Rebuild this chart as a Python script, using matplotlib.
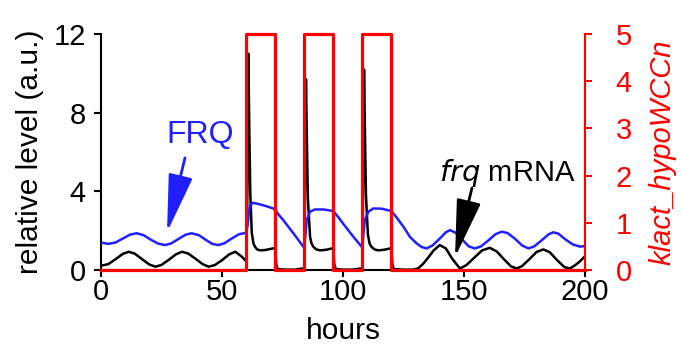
import matplotlib
matplotlib.use("Agg")
import matplotlib.pyplot as plt

plt.rcParams['font.family'] = ['Liberation Sans', 'DejaVu Sans']

# frq mRNA (black)
t_mrna = [0, 3, 6, 9, 11.5, 14, 17, 20, 22.5, 25, 28, 31, 33.5, 36, 39, 42, 44.5, 47, 50, 53,
          55.5, 58, 60,
          60.5, 60.9, 61.3, 61.7, 62.3, 63, 63.6, 64.5, 65.7, 68, 71, 72, 72.4, 73, 76, 80, 83.5, 84,
          84.3, 84.7, 85.1, 85.5, 86.4, 87, 87.7, 89, 90.5, 93, 95.5, 96, 96.4, 97, 100, 104, 107.5, 108,
          108.3, 108.7, 109.1, 109.5, 110.3, 111, 111.7, 113, 114.5, 117, 119.5, 120, 120.4, 121, 125,
          129, 131, 133, 135, 137.5, 140, 142.5, 145, 148.3, 151, 154, 157.5, 160.7, 163.5, 166.5,
          169.5, 171.8, 174, 177, 180, 182.8, 185.5, 188.5, 191.5, 193.8, 196, 198, 200]
mrna = [0.22, 0.3, 0.55, 0.82, 0.93, 0.83, 0.55, 0.28, 0.17, 0.26, 0.52, 0.8, 0.93, 0.84, 0.58, 0.3,
        0.17, 0.25, 0.5, 0.8, 0.93, 0.7, 0.45,
        4.0, 11.0, 7.0, 3.9, 1.9, 1.35, 1.19, 1.05, 1.0, 1.02, 1.1, 1.1, 0.3, 0.05, 0.02, 0.02, 0.08, 0.1,
        4.0, 9.7, 6.5, 3.6, 1.69, 1.35, 1.19, 1.05, 1.0, 1.03, 1.1, 1.1, 0.3, 0.05, 0.02, 0.02, 0.08, 0.1,
        4.0, 10.2, 6.8, 3.8, 1.8, 1.35, 1.19, 1.05, 1.0, 1.03, 1.1, 1.1, 0.3, 0.05, 0.02,
        0.02, 0.08, 0.3, 0.6, 1.0, 1.27, 1.1, 0.6, 0.08, 0.25, 0.6, 1.0, 1.13, 0.95, 0.55,
        0.18, 0.08, 0.2, 0.55, 0.92, 1.05, 0.9, 0.5, 0.15, 0.08, 0.25, 0.45, 0.7]

# FRQ protein (blue)
t_frq = [0, 3, 6, 9, 12, 14.7, 17.5, 20.5, 23.5, 26.4, 29, 32, 35, 37.5, 40.5, 43.5, 46, 48.5, 51,
         54, 57, 59, 60, 60.6, 61.2, 61.6, 62.9, 66, 69, 71.2, 72, 73.5, 75.3, 79.5, 83.6, 84, 84.5,
         85, 86.4, 88.4, 92, 96, 98, 100, 104.3, 107.7, 108, 108.5, 109, 110.5, 112.5, 116, 120, 122,
         125, 127.7, 130.4, 132.5, 134.6, 137, 140, 142.5, 144.2, 146.5, 149.5, 152, 154.5, 157, 160,
         163, 165.6, 168, 171, 174, 176.6, 179, 182, 185, 186.9, 189, 192, 195, 198, 200]
frq = [1.4, 1.33, 1.4, 1.6, 1.8, 1.87, 1.78, 1.55, 1.35, 1.27, 1.35, 1.58, 1.8, 1.87, 1.77, 1.52,
       1.33, 1.27, 1.36, 1.6, 1.82, 1.87, 1.9, 2.3, 3.0, 3.3, 3.42, 3.33, 3.22, 3.13, 3.05, 2.8, 2.54,
       1.87, 1.19, 1.15, 1.8, 2.54, 2.97, 3.08, 3.08, 3.0, 2.7, 2.37, 1.69, 1.19, 1.15, 1.9, 2.54,
       2.97, 3.13, 3.12, 3.0, 2.7, 2.2, 1.68, 1.36, 1.17, 1.1, 1.25, 1.6, 1.92, 2.03, 1.9, 1.52, 1.2,
       1.1, 1.2, 1.5, 1.82, 1.95, 1.88, 1.6, 1.25, 1.1, 1.2, 1.5, 1.82, 1.92, 1.85, 1.55, 1.3, 1.19,
       1.22]

# light pulses (red, right axis)
t_light = [0, 60, 72, 84, 96, 108, 120, 200]
light = [0, 5, 0, 5, 0, 5, 0, 0]

fig = plt.figure(figsize=(6.81, 3.44), dpi=100)
ax = fig.add_axes([0.1483, 0.215, 0.7107, 0.686])
ax2 = ax.twinx()

ax.plot(t_mrna, mrna, color='black', lw=1.8, zorder=3)
ax.plot(t_frq, frq, color='#1f1fff', lw=1.8, zorder=3)
ax2.plot(t_light, light, color='red', lw=2.3, drawstyle='steps-post', clip_on=False)

ax.set_xlim(0, 200)
ax.set_ylim(0, 12)
ax2.set_ylim(0, 5)
ax.set_xticks([0, 50, 100, 150, 200])
ax.set_yticks([0, 4, 8, 12])
ax2.set_yticks([0, 1, 2, 3, 4, 5])

ax.spines['top'].set_visible(False)
ax2.spines['top'].set_visible(False)
ax.spines['right'].set_visible(False)
ax2.spines['left'].set_visible(False)
ax2.spines['bottom'].set_visible(False)
for s in ['left', 'bottom']:
    ax.spines[s].set_linewidth(1.5)
ax2.spines['right'].set_linewidth(1.5)
ax2.spines['right'].set_color('red')

ax.tick_params(axis='y', direction='out', length=5, width=1.5, labelsize=21, pad=6)
ax.tick_params(axis='x', direction='out', length=5, width=1.5, labelsize=21, pad=1)
ax2.tick_params(direction='out', length=5, width=1.5, labelsize=21, colors='red', pad=17)

ax.set_xlabel('hours', fontsize=21.5, labelpad=8)
ax.set_ylabel('relative level (a.u.)', fontsize=21.5, labelpad=7)
ax2.set_ylabel('klact_hypoWCCn', fontsize=21, color='red', style='italic', labelpad=12)

ax.text(40.9, 6.86, 'FRQ', color='#1f1fff', fontsize=23, ha='center', va='center')
ax.annotate('', xy=(27.3, 1.93), xytext=(34.7, 5.7),
            arrowprops=dict(arrowstyle='-|>,head_length=1.8,head_width=0.38',
                            mutation_scale=20, color='#1f1fff', lw=2, shrinkA=0, shrinkB=0))

ax.text(167.8, 4.93, r'$\it{frq}$ mRNA', color='black', fontsize=21, ha='center', va='center')
ax.annotate('', xy=(146.3, 0.65), xytext=(153.3, 4.17),
            arrowprops=dict(arrowstyle='-|>,head_length=1.8,head_width=0.38',
                            mutation_scale=20, color='black', lw=2, shrinkA=0, shrinkB=0))

fig.savefig('out.png', dpi=100)
